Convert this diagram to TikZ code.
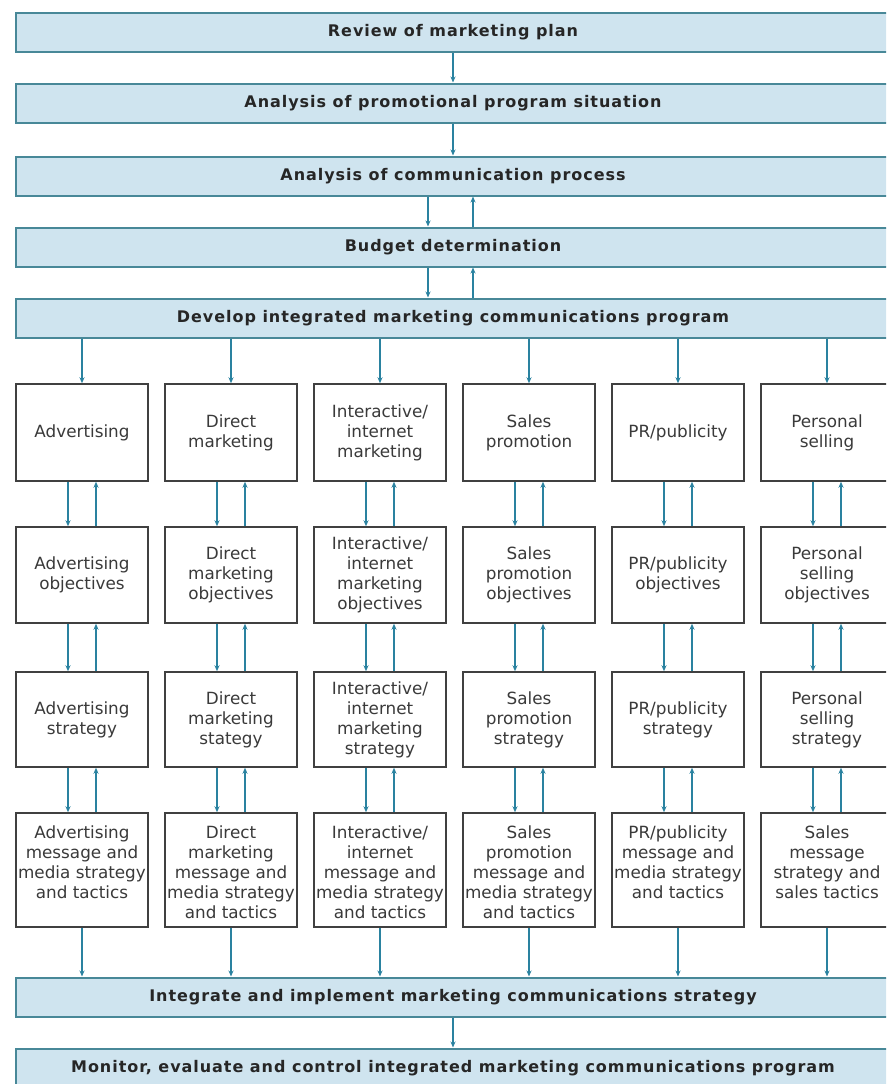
\documentclass[tikz,border=0pt]{standalone}
\usepackage{fontspec}
\newfontfamily\boxfont{DejaVu Sans}
\newfontfamily\barfont[LetterSpace=6]{DejaVu Sans}
\usetikzlibrary{arrows.meta}
\definecolor{barfill}{RGB}{207,228,239}
\definecolor{barline}{RGB}{72,136,152}
\definecolor{arrowc}{RGB}{42,130,160}
\definecolor{boxline}{RGB}{64,64,64}
\definecolor{boxtext}{RGB}{58,58,58}
\definecolor{bartext}{RGB}{38,38,38}
% top-aligned text for the tactics row
\newcommand\tacpar[1]{\parbox[c][92pt][t]{130pt}{\centering\strut #1}}
\begin{document}
\begin{tikzpicture}[x=1pt,y=-1pt,
  stagebar/.style={draw=barline, line width=2pt, fill=barfill,
    minimum width=874pt, minimum height=39pt, inner sep=0pt, text=bartext,
    font=\barfont\bfseries\fontsize{16}{19}\selectfont},
  toolbox/.style={draw=boxline, line width=1.5pt, fill=white,
    minimum width=132pt, inner sep=1pt, align=center, text=boxtext,
    font=\boxfont\fontsize{16.8}{20}\selectfont},
  rowa/.style={toolbox, minimum height=97pt},
  rowb/.style={toolbox, minimum height=96pt},
  rowc/.style={toolbox, minimum height=95pt},
  rowd/.style={toolbox, minimum height=114pt, inner sep=0pt},
  flow/.style={draw=arrowc, line width=1.3pt, -{Stealth[length=6pt,width=5pt]}}
]
\clip (0,0) rectangle (886,1084);
\fill[white] (0,0) rectangle (886,1084);

% planning stages
\node[stagebar] (b1) at (453,32.5) {Review of marketing plan};
\node[stagebar] (b2) at (453,103) {Analysis of promotional program situation};
\node[stagebar] (b3) at (453,176) {Analysis of communication process};
\node[stagebar] (b4) at (453,247) {Budget determination};
\node[stagebar] (b5) at (453,318) {Develop integrated marketing communications program};
\node[stagebar] (b6) at (453,997) {Integrate and implement marketing communications strategy};
\node[stagebar] (b7) at (453,1068) {Monitor, evaluate and control integrated marketing communications program};

% column 1: advertising
\node[rowa] (k1r1) at (82,432.5) {Advertising};
\node[rowb] (k1r2) at (82,575) {Advertising\\objectives};
\node[rowc] (k1r3) at (82,719.5) {Advertising\\strategy};
\node[rowd] (k1r4) at (82,870) {\tacpar{Advertising\\message and\\media strategy\\and tactics}};

% column 2: direct marketing
\node[rowa] (k2r1) at (231,432.5) {Direct\\marketing};
\node[rowb] (k2r2) at (231,575) {Direct\\marketing\\objectives};
\node[rowc] (k2r3) at (231,719.5) {Direct\\marketing\\stategy};
\node[rowd] (k2r4) at (231,870) {\tacpar{Direct\\marketing\\message and\\media strategy\\and tactics}};

% column 3: interactive/internet marketing
\node[rowa] (k3r1) at (380,432.5) {Interactive/\\internet\\marketing};
\node[rowb] (k3r2) at (380,575) {Interactive/\\internet\\marketing\\objectives};
\node[rowc] (k3r3) at (380,719.5) {Interactive/\\internet\\marketing\\strategy};
\node[rowd] (k3r4) at (380,870) {\tacpar{Interactive/\\internet\\message and\\media strategy\\and tactics}};

% column 4: sales promotion
\node[rowa] (k4r1) at (529,432.5) {Sales\\promotion};
\node[rowb] (k4r2) at (529,575) {Sales\\promotion\\objectives};
\node[rowc] (k4r3) at (529,719.5) {Sales\\promotion\\strategy};
\node[rowd] (k4r4) at (529,870) {\tacpar{Sales\\promotion\\message and\\media strategy\\and tactics}};

% column 5: PR/publicity
\node[rowa] (k5r1) at (678,432.5) {PR/publicity};
\node[rowb] (k5r2) at (678,575) {PR/publicity\\objectives};
\node[rowc] (k5r3) at (678,719.5) {PR/publicity\\strategy};
\node[rowd] (k5r4) at (678,870) {\tacpar{PR/publicity\\message and\\media strategy\\and tactics}};

% column 6: personal selling
\node[rowa] (k6r1) at (827,432.5) {Personal\\selling};
\node[rowb] (k6r2) at (827,575) {Personal\\selling\\objectives};
\node[rowc] (k6r3) at (827,719.5) {Personal\\selling\\strategy};
\node[rowd] (k6r4) at (827,870) {\tacpar{Sales\\message\\strategy and\\sales tactics}};

% connectors between the stage bars
\draw[flow] (b1.south) -- (b2.north);
\draw[flow] (b2.south) -- (b3.north);
\draw[flow] ([xshift=-25pt]b3.south) -- ([xshift=-25pt]b4.north);
\draw[flow] ([xshift=20pt]b4.north) -- ([xshift=20pt]b3.south);
\draw[flow] ([xshift=-25pt]b4.south) -- ([xshift=-25pt]b5.north);
\draw[flow] ([xshift=20pt]b5.north) -- ([xshift=20pt]b4.south);
\draw[flow] (b6.south) -- (b7.north);

% connectors down each column
\foreach \c in {1,...,6} {
  \draw[flow] (b5.south -| k\c r1.north) -- (k\c r1.north);
  \foreach \r/\s in {1/2,2/3,3/4} {
    \draw[flow] ([xshift=-14pt]k\c r\r.south) -- ([xshift=-14pt]k\c r\s.north);
    \draw[flow] ([xshift=14pt]k\c r\s.north) -- ([xshift=14pt]k\c r\r.south);
  }
  \draw[flow] (k\c r4.south) -- (k\c r4.south |- b6.north);
}
\end{tikzpicture}
\end{document}
